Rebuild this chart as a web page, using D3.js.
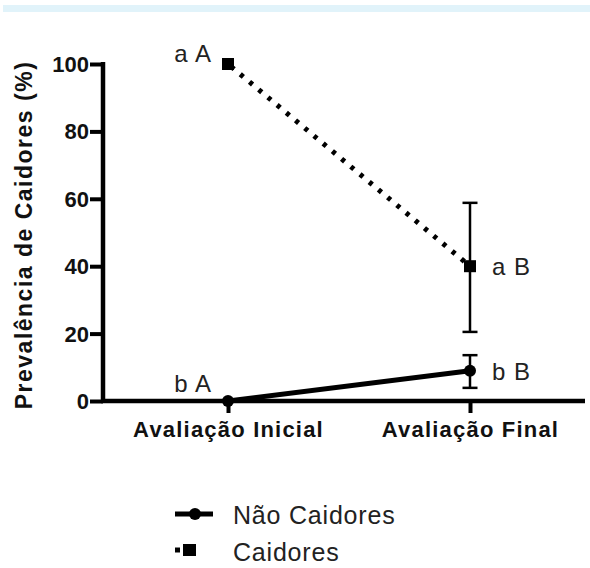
<!DOCTYPE html>
<html><head><meta charset="utf-8">
<script src="https://cdn.jsdelivr.net/npm/d3@7"></script>
<style>body{margin:0;background:#fff;} svg{display:block;}</style>
</head><body>
<svg id="c" width="590" height="568"></svg>
<script>
const categories = ["Avaliação Inicial", "Avaliação Final"];
const seriesNames = ["Não Caidores", "Caidores"];
const naoCaidores = [0, 9];
const naoCaidoresLow = [0, 3.9];
const naoCaidoresHigh = [0, 13.6];
const caidores = [100, 40];
const caidoresLow = [100, 20.5];
const caidoresHigh = [100, 58.8];
const labelsNao = ["b A", "b B"];
const labelsCai = ["a A", "a B"];
const yTicks = [0, 20, 40, 60, 80, 100];
const yTitle = "Prevalência de Caidores (%)";

const svg = d3.select("#c");
svg.append("rect").attr("x",3).attr("y",5).attr("width",587).attr("height",7).attr("fill","#e1f3fa");

const x = d3.scalePoint().domain(categories).range([228, 470]);
const y = d3.scaleLinear().domain([0,100]).range([401, 64]);
const font = "'Liberation Sans', Arial, sans-serif";
const AX = 103;

// axes
const yAxis = svg.append("g").attr("transform","translate("+AX+",0)")
  .call(d3.axisLeft(y).tickValues(yTicks).tickSize(13).tickPadding(1).tickSizeOuter(0));
yAxis.select(".domain").attr("stroke","#000").attr("stroke-width",4.5).attr("d","M0,"+(y(100)-2)+"V"+(y(0)+2));
yAxis.selectAll(".tick line").attr("stroke","#000").attr("stroke-width",4);
yAxis.selectAll(".tick text").attr("font-family",font).attr("font-weight","bold").attr("font-size",22).attr("fill","#111").attr("dy","0.34em");

const xAxis = svg.append("g").attr("transform","translate(0,401)")
  .call(d3.axisBottom(x).tickSize(12).tickPadding(8).tickSizeOuter(0));
xAxis.select(".domain").attr("stroke","#000").attr("stroke-width",4.5).attr("d","M"+(AX-2)+",0H585");
xAxis.selectAll(".tick line").attr("stroke","#000").attr("stroke-width",4);
xAxis.selectAll(".tick text").attr("font-family",font).attr("font-weight","bold").attr("font-size",22)
  .attr("letter-spacing","1.2px").attr("fill","#111").attr("dy",0).attr("y",36);

svg.append("text").attr("transform","translate(32,"+235+") rotate(-90)")
  .attr("text-anchor","middle").attr("font-family",font).attr("font-weight","bold")
  .attr("font-size",23).attr("letter-spacing","1.5px").attr("fill","#111").text(yTitle);

// error bars
function errBars(lo, hi){
  categories.forEach((c,i)=>{
    if (hi[i]===lo[i]) return;
    const cx = x(c);
    svg.append("line").attr("x1",cx).attr("x2",cx).attr("y1",y(lo[i])).attr("y2",y(hi[i])).attr("stroke","#000").attr("stroke-width",2.5);
    [lo[i],hi[i]].forEach(v=>svg.append("line").attr("x1",cx-7.5).attr("x2",cx+7.5).attr("y1",y(v)).attr("y2",y(v)).attr("stroke","#000").attr("stroke-width",2.5));
  });
}
errBars(caidoresLow, caidoresHigh);
errBars(naoCaidoresLow, naoCaidoresHigh);

const line = d3.line().x((d,i)=>x(categories[i])).y(d=>y(d));
svg.append("path").datum(caidores).attr("d",line).attr("fill","none").attr("stroke","#000").attr("stroke-width",5).attr("stroke-dasharray","4,8").attr("stroke-dashoffset",-4);
svg.append("path").datum(naoCaidores).attr("d",line).attr("fill","none").attr("stroke","#000").attr("stroke-width",5);

caidores.forEach((v,i)=>svg.append("rect").attr("x",x(categories[i])-6).attr("y",y(v)-6).attr("width",12).attr("height",12).attr("fill","#000"));
naoCaidores.forEach((v,i)=>svg.append("circle").attr("cx",x(categories[i])).attr("cy",y(v)).attr("r",6).attr("fill","#000"));

// significance labels
const lblFont = 24;
function lbl(xp, yp, anchor, t){
  svg.append("text").attr("x",xp).attr("y",yp).attr("text-anchor",anchor).attr("font-family",font)
    .attr("font-size",lblFont).attr("letter-spacing","1px").attr("fill","#222").text(t);
}
lbl(x(categories[0])-16, y(caidores[0])-2, "end", labelsCai[0]);
lbl(x(categories[0])-16, y(naoCaidores[0])-9, "end", labelsNao[0]);
lbl(x(categories[1])+22, y(caidores[1])+9, "start", labelsCai[1]);
lbl(x(categories[1])+22, y(naoCaidores[1])+9, "start", labelsNao[1]);

// legend
const lg = svg.append("g");
lg.append("line").attr("x1",175).attr("x2",213).attr("y1",514).attr("y2",514).attr("stroke","#000").attr("stroke-width",5);
lg.append("circle").attr("cx",195).attr("cy",514).attr("r",6).attr("fill","#000");
lg.append("text").attr("x",233).attr("y",524).attr("font-family",font).attr("font-size",25).attr("letter-spacing","0.8px").attr("fill","#222").text(seriesNames[0]);
lg.append("line").attr("x1",175).attr("x2",196).attr("y1",550).attr("y2",550).attr("stroke","#000").attr("stroke-width",5).attr("stroke-dasharray","5,30");
lg.append("rect").attr("x",183).attr("y",544).attr("width",13).attr("height",12).attr("fill","#000");
lg.append("text").attr("x",233).attr("y",561).attr("font-family",font).attr("font-size",25).attr("letter-spacing","0.8px").attr("fill","#222").text(seriesNames[1]);
</script>
</body></html>
